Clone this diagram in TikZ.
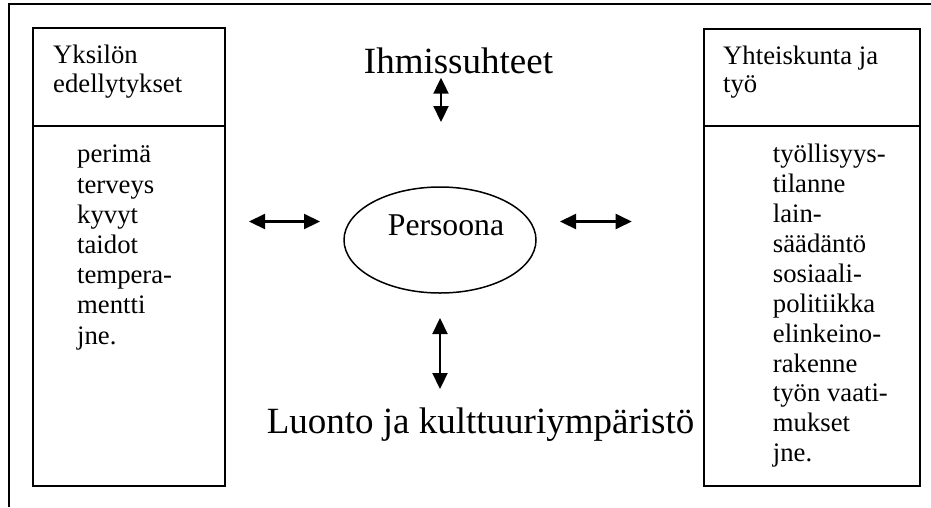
\documentclass[tikz,border=0pt]{standalone}
\usepackage{fontspec}
\setmainfont{Liberation Serif}
\usetikzlibrary{arrows.meta,shapes.geometric}

% multi-line nodes below are anchored at the baseline of their last line
\tikzset{
  frameline/.style={line width=1.5pt},
  boxpart/.style={draw, line width=2pt, rectangle, inner sep=0pt, outer sep=0pt},
  boxtext/.style={inner sep=0pt, anchor=base west, align=left,
                  font=\fontsize{26.7}{29}\selectfont},
  bigtext/.style={inner sep=0pt, anchor=base, font=\fontsize{37}{40}\selectfont},
  twoway/.style={line width=2.2pt,
                 {Triangle[length=16pt 0 0,width=15pt 0 0]}-{Triangle[length=16pt 0 0,width=15pt 0 0]}},
}

\begin{document}
\begin{tikzpicture}[x=1pt,y=-1pt]
  \useasboundingbox (0,0) rectangle (931,507);

  % outer frame: only the top and left edges show
  \draw[frameline] (9,507) -- (9,4) -- (931,4);

  % left column box
  \node[boxpart, minimum width=192pt, minimum height=98pt, anchor=north west]
    (lhead) at (33,28) {};
  \node[boxpart, minimum width=192pt, minimum height=360pt, anchor=north west]
    (lbody) at (lhead.south west) {};
  \node[boxtext] (ltitle) at (53,92.3) {Yksilön\\edellytykset};
  \node[boxtext, font=\fontsize{26.7}{30.2}\selectfont] (llist) at (77,344)
    {perimä\\terveys\\kyvyt\\taidot\\tempera-\\mentti\\jne.};

  % right column box
  \node[boxpart, minimum width=216pt, minimum height=97pt, anchor=north west]
    (rhead) at (704,29) {};
  \node[boxpart, minimum width=216pt, minimum height=360pt, anchor=north west]
    (rbody) at (rhead.south west) {};
  \node[boxtext, font=\fontsize{26.7}{28.5}\selectfont] (rtitle) at (723,92.5)
    {Yhteiskunta ja\\työ};
  \node[boxtext, font=\fontsize{26.7}{29.9}\selectfont] (rlist) at (772.7,461.7)
    {työllisyys-\\tilanne\\lain-\\säädäntö\\sosiaali-\\politiikka\\elinkeino-\\rakenne\\työn vaati-\\mukset\\jne.};

  % centre
  \node[ellipse, draw, line width=1.5pt, minimum width=192pt, minimum height=106pt,
        inner sep=0pt,
        label={[inner sep=0pt, font=\fontsize{31.7}{34}\selectfont,
                xshift=6pt, yshift=15pt]center:Persoona}]
    (persoona) at (440,240) {};

  \node[bigtext] (ihmis) at (458.5,73.3) {Ihmissuhteet};
  \node[bigtext] (luonto) at (480.5,433) {Luonto ja kulttuuriympäristö};

  % two-way arrows around the person
  \coordinate (upA) at (441,77.7);
  \coordinate (upB) at (441,122);
  \coordinate (dnA) at (440,318);
  \coordinate (dnB) at (440,389);
  \coordinate (ltA) at (249,221.5);
  \coordinate (ltB) at (320,221.5);
  \coordinate (rtA) at (560,221.5);
  \coordinate (rtB) at (631.7,221.5);
  \draw[twoway] (upA) -- (upB);
  \draw[twoway] (dnA) -- (dnB);
  \draw[twoway] (ltA) -- (ltB);
  \draw[twoway] (rtA) -- (rtB);
\end{tikzpicture}
\end{document}
